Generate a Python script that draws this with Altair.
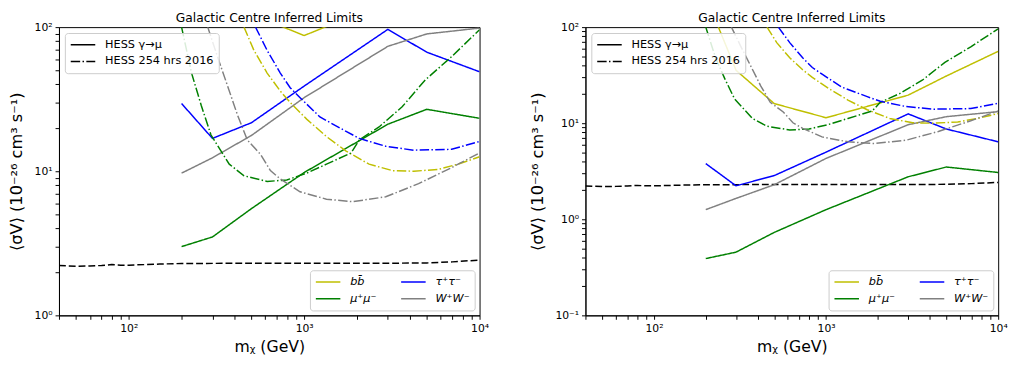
import altair as alt
import pandas as pd

FONT = "DejaVu Sans"

# ---- data ----
MASS = [200, 300, 500, 1000, 3000, 5000, 10000]
# legend fills column by column: bb̄, μ⁺μ⁻ | τ⁺τ⁻, W⁺W⁻
CHANNELS = ["bb\u0304", "μ⁺μ⁻", "τ⁺τ⁻", "W⁺W⁻"]
COLORS = ["#bfbf00", "#008000", "#0000ff", "#808080"]
STYLES = ["HESS γ→μ", "HESS 254 hrs 2016"]

# left panel (inferred limits, solid)
LEFT_BB = [1620, 273, 123, 87.4, 151, 238, 431]
LEFT_MU = [3.0, 3.5, 5.5, 9.8, 21.2, 26.9, 23.3]
LEFT_TAU = [29.5, 16.9, 21.7, 39, 96.5, 67, 49]
LEFT_WW = [9.7, 12.4, 17.7, 32.4, 73.6, 89.7, 98.5]

# right panel (inferred limits, solid)
RIGHT_BB = [210, 35.5, 16, 11.4, 19.6, 31, 56]
RIGHT_MU = [0.39, 0.455, 0.73, 1.26, 2.77, 3.5, 3.07]
RIGHT_TAU = [3.8, 2.23, 2.85, 5.0, 12.5, 8.7, 6.4]
RIGHT_WW = [1.26, 1.65, 2.29, 4.3, 9.65, 11.7, 13.2]

# HESS 254 hrs 2016 (dash-dot, same in both panels)
HESS_BB_X = [454, 517, 615, 731, 832, 1033, 1340, 1734, 2344, 3184, 4210, 5820, 7550, 10000]
HESS_BB_Y = [100, 69, 48, 36, 30, 23, 17.4, 13.8, 11.2, 10.1, 10.0, 10.3, 11.2, 12.6]
HESS_MU_X = [200, 228, 259, 294, 336, 374, 454, 615, 796, 1033, 1340, 1854, 2063, 2673, 3620, 4900, 6930, 10000]
HESS_MU_Y = [100, 48, 28.6, 17.9, 13.8, 11.2, 9.3, 8.5, 8.7, 9.7, 11.2, 13.4, 16.5, 20.3, 28, 43, 62.4, 96]
HESS_TAU_X = [528, 615, 731, 832, 948, 1230, 1734, 2063, 2917, 4210, 6930, 10000]
HESS_TAU_Y = [100, 69, 48, 38, 32.4, 23.8, 18.9, 16.9, 14.9, 14.0, 14.2, 16.1]
HESS_WW_X = [282, 321, 366, 417, 474, 564, 642, 731, 947, 1340, 1893, 2917, 4490, 6930, 10000]
HESS_WW_Y = [100, 62, 39, 24.5, 16.5, 13.1, 10.1, 8.85, 7.2, 6.4, 6.15, 6.65, 8.2, 10.6, 13.4]

# black dashed reference line
REF_X = [40, 50, 60, 70, 80, 90, 100, 150, 200, 500, 1000, 3000, 5000, 7000, 10000]
REF_Y = [2.22, 2.19, 2.2, 2.22, 2.25, 2.23, 2.23, 2.27, 2.29, 2.3, 2.3, 2.3, 2.31, 2.35, 2.42]

X_TICKS = [40, 50, 60, 70, 80, 90, 100, 200, 300, 400, 500, 600, 700, 800, 900,
           1000, 2000, 3000, 4000, 5000, 6000, 7000, 8000, 9000, 10000]

HESS = {
    CHANNELS[0]: (HESS_BB_X, HESS_BB_Y),
    CHANNELS[1]: (HESS_MU_X, HESS_MU_Y),
    CHANNELS[2]: (HESS_TAU_X, HESS_TAU_Y),
    CHANNELS[3]: (HESS_WW_X, HESS_WW_Y),
}

IS_MAJOR = "abs(log(datum.value)/LN10 - round(log(datum.value)/LN10)) < 0.001"
LABEL_EXPR = (IS_MAJOR + " ? (datum.value < 0.5 ? '10⁻¹' : datum.value < 5 ? '10⁰' : datum.value < 50 ? '10¹' : "
              "datum.value < 500 ? '10²' : datum.value < 5000 ? '10³' : '10⁴') : ''")


def all_ticks(lo, hi):
    vals = []
    d = lo
    while d < hi * 0.999:
        for k in range(1, 10):
            vals.append(round(d * k, 6))
        d *= 10
    vals.append(hi)
    return vals


def panel(solid, ydom, width, height):
    rows = []
    for ch, ys in zip(CHANNELS, solid):
        for m, v in zip(MASS, ys):
            rows.append({"m": m, "v": v, "ch": ch, "st": STYLES[0]})
    for ch in CHANNELS:
        xs, ys = HESS[ch]
        for m, v in zip(xs, ys):
            rows.append({"m": m, "v": v, "ch": ch, "st": STYLES[1]})
    df = pd.DataFrame(rows)
    ref = pd.DataFrame({"m": REF_X, "v": REF_Y})

    xscale = alt.Scale(type="log", domain=[40, 10000], nice=False)
    yscale = alt.Scale(type="log", domain=ydom, nice=False)

    xaxis = alt.Axis(values=X_TICKS, labelExpr=LABEL_EXPR, title="mᵪ (GeV)", orient="bottom",
                     tickSize=4, labelPadding=3, titlePadding=6, titleFontSize=16, grid=False,
                     labelFlush=False, labelOverlap=False)
    yaxis = alt.Axis(values=all_ticks(ydom[0], ydom[1]), labelExpr=LABEL_EXPR,
                     title="⟨σV⟩ (10⁻²⁶ cm³ s⁻¹)", orient="left",
                     tickSize=4, labelPadding=3, titlePadding=10, titleFontSize=16.5, grid=False,
                     labelFlush=False, labelOverlap=False)

    refline = alt.Chart(ref).mark_line(color="black", strokeWidth=1.5, strokeDash=[7, 3], clip=True).encode(
        x=alt.X("m:Q", scale=xscale, axis=xaxis),
        y=alt.Y("v:Q", scale=yscale, axis=yaxis),
    )

    lines = alt.Chart(df).mark_line(strokeWidth=1.5, clip=True).encode(
        x=alt.X("m:Q", scale=xscale, axis=xaxis),
        y=alt.Y("v:Q", scale=yscale, axis=yaxis),
        color=alt.Color("ch:N", scale=alt.Scale(domain=CHANNELS, range=COLORS),
                        legend=alt.Legend(title=None, orient="bottom-right", columns=2, offset=5,
                                          symbolType="stroke", symbolSize=625, symbolStrokeWidth=1.5,
                                          clipHeight=14,
                                          labelFontStyle="italic", labelFontSize=11.5, labelFont=FONT,
                                          labelOffset=9, rowPadding=3, columnPadding=24, padding=5,
                                          fillColor="rgba(255,255,255,0.85)", strokeColor="#cccccc",
                                          cornerRadius=3)),
        strokeDash=alt.StrokeDash("st:N", scale=alt.Scale(domain=STYLES, range=[[1, 0], [9.6, 2.4, 1.5, 2.4]]),
                                  legend=alt.Legend(title=None, orient="top-left", offset=6,
                                                    symbolType="stroke", symbolSize=625, symbolStrokeWidth=1.5,
                                                    clipHeight=14,
                                                    symbolStrokeColor="black", labelFontSize=11.5, labelFont=FONT,
                                                    labelOffset=9, rowPadding=3, padding=5,
                                                    fillColor="rgba(255,255,255,0.85)", strokeColor="#cccccc",
                                                    cornerRadius=3)),
    )

    return alt.layer(refline, lines).properties(
        width=width, height=height,
        title=alt.TitleParams("Galactic Centre Inferred Limits", fontSize=12.5, font=FONT,
                              fontWeight="normal", offset=-3, anchor="middle", color="black",
                              frame="group"),
    )


left = panel([LEFT_BB, LEFT_MU, LEFT_TAU, LEFT_WW], [1, 100], 429, 294)
right = panel([RIGHT_BB, RIGHT_MU, RIGHT_TAU, RIGHT_WW], [0.1, 100], 421, 294)

chart = alt.hconcat(left, right, spacing=40).resolve_scale(
    color="independent", strokeDash="independent", x="independent", y="independent"
).resolve_legend(
    color="independent", strokeDash="independent"
).properties(padding=0).configure_view(
    stroke="black", strokeWidth=1
).configure_axis(
    domainColor="black", tickColor="black", tickWidth=1, labelColor="black", labelFont=FONT,
    labelFontSize=11, titleFont=FONT, titleFontWeight="normal", titleColor="black"
).configure_legend(
    labelColor="black"
)

chart.save("out.html", embed_options={"renderer": "svg", "actions": False})
